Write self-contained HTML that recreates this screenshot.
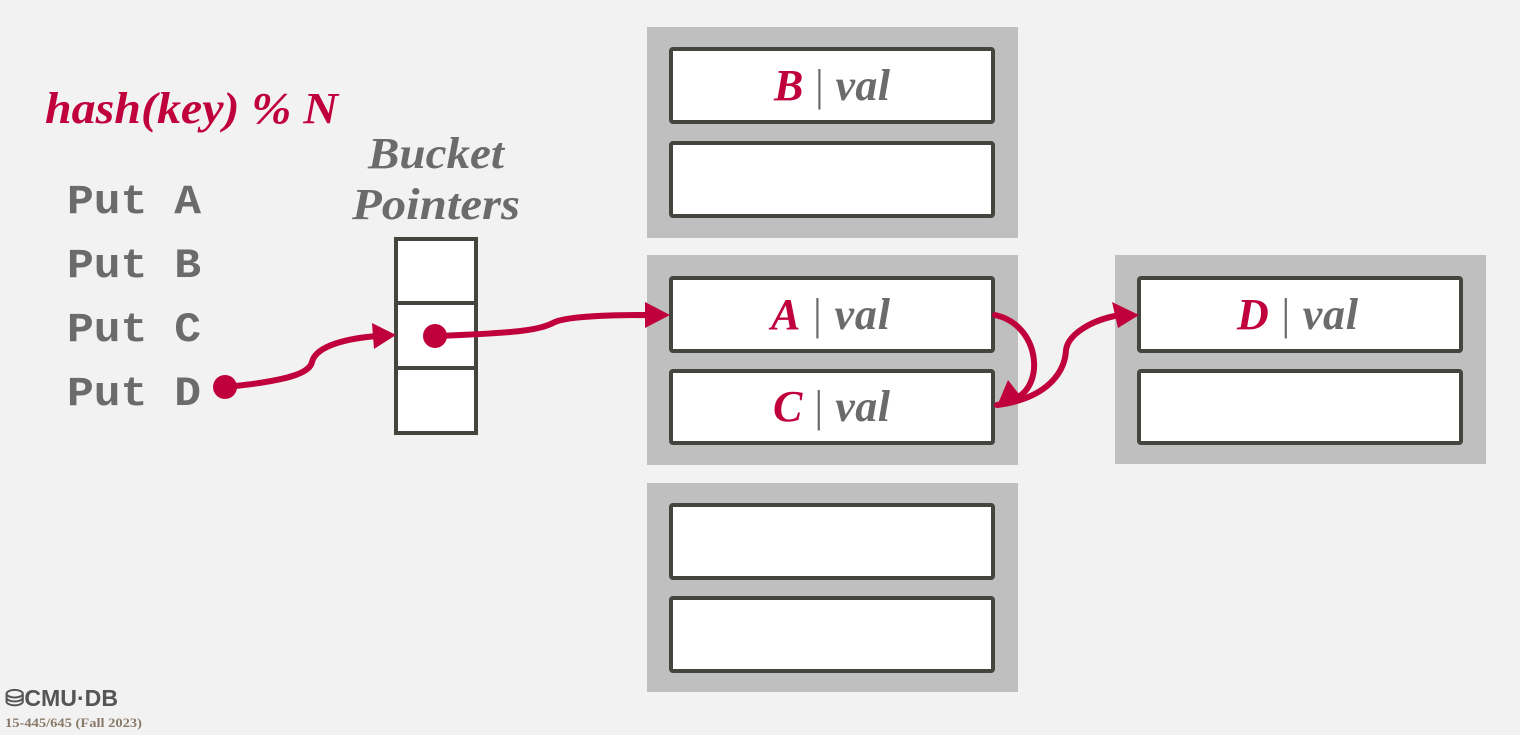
<!DOCTYPE html>
<html><head><meta charset="utf-8"><style>
html,body{margin:0;padding:0;background:#f2f2f2;}
svg{display:block}
</style></head><body>
<svg width="1520" height="735" xmlns="http://www.w3.org/2000/svg">
<rect width="1520" height="735" fill="#f2f2f2"/>
<g fill="#bfbfbf">
<rect x="647" y="27" width="371" height="211"/>
<rect x="647" y="255" width="371" height="210"/>
<rect x="647" y="483" width="371" height="209"/>
<rect x="1115" y="255" width="371" height="209"/>
</g>
<g fill="#fff" stroke="#454540" stroke-width="4">
<rect x="671" y="49" width="322" height="73" rx="2"/>
<rect x="671" y="143" width="322" height="73" rx="2"/>
<rect x="671" y="278" width="322" height="73" rx="2"/>
<rect x="671" y="371" width="322" height="72" rx="2"/>
<rect x="671" y="505" width="322" height="73" rx="2"/>
<rect x="671" y="598" width="322" height="73" rx="2"/>
<rect x="1139" y="278" width="322" height="73" rx="2"/>
<rect x="1139" y="371" width="322" height="72" rx="2"/>
<rect x="396" y="239" width="80" height="194"/>
<line x1="396" y1="303" x2="476" y2="303"/>
<line x1="396" y1="368" x2="476" y2="368"/>
</g>
<g font-family="Liberation Serif, serif" font-style="italic" font-weight="bold" font-size="44">
<text x="774" y="100" textLength="116" lengthAdjust="spacing"><tspan fill="#c0003c">B</tspan><tspan fill="#6b6b6b" font-style="normal" font-weight="normal"> | </tspan><tspan fill="#6b6b6b">val</tspan></text>
<text x="771" y="329" textLength="119" lengthAdjust="spacing"><tspan fill="#c0003c">A</tspan><tspan fill="#6b6b6b" font-style="normal" font-weight="normal"> | </tspan><tspan fill="#6b6b6b">val</tspan></text>
<text x="773" y="421" textLength="117" lengthAdjust="spacing"><tspan fill="#c0003c">C</tspan><tspan fill="#6b6b6b" font-style="normal" font-weight="normal"> | </tspan><tspan fill="#6b6b6b">val</tspan></text>
<text x="1237" y="329" textLength="121" lengthAdjust="spacing"><tspan fill="#c0003c">D</tspan><tspan fill="#6b6b6b" font-style="normal" font-weight="normal"> | </tspan><tspan fill="#6b6b6b">val</tspan></text>
</g>
<text x="45" y="123" font-family="Liberation Serif, serif" font-style="italic" font-weight="bold" font-size="44" fill="#c0003c" textLength="293" lengthAdjust="spacingAndGlyphs">hash(key) % N</text>
<g font-family="Liberation Serif, serif" font-style="italic" font-weight="bold" font-size="44" fill="#6b6b6b">
<text x="368" y="168" textLength="136" lengthAdjust="spacingAndGlyphs">Bucket</text>
<text x="352" y="219" textLength="168" lengthAdjust="spacingAndGlyphs">Pointers</text>
</g>
<g font-family="Liberation Mono, monospace" font-weight="bold" font-size="42" fill="#6b6b6b">
<text x="67" y="213" textLength="134" lengthAdjust="spacingAndGlyphs">Put A</text>
<text x="67" y="277" textLength="134" lengthAdjust="spacingAndGlyphs">Put B</text>
<text x="67" y="341" textLength="134" lengthAdjust="spacingAndGlyphs">Put C</text>
<text x="67" y="405" textLength="134" lengthAdjust="spacingAndGlyphs">Put D</text>
</g>
<g fill="none" stroke="#c0003c" stroke-width="6" stroke-linecap="round">
<path d="M225,387 C300,380 310,370 312,362 C316,345 350,338 378,336"/>
<path d="M435,336 C520,333 540,330 555,322 C570,316 610,315 650,315"/>
<path d="M995,315 C1040,325 1045,385 1016,398"/>
<path d="M997,405 C1050,398 1065,370 1066,350 C1068,335 1090,320 1120,315"/>
</g>
<g fill="#c0003c">
<circle cx="225" cy="387" r="12"/>
<circle cx="435" cy="336" r="12"/>
<polygon points="396,335 372,323 374,349"/>
<polygon points="670,315 645,302 645,328"/>
<polygon points="997,406 1008,380 1022,398"/>
<polygon points="1139,315 1112,302 1118,328"/>
</g>
<text x="5" y="706" font-family="Liberation Sans, sans-serif" font-weight="bold" font-size="23" fill="#555" textLength="113" lengthAdjust="spacingAndGlyphs">⛁CMU·DB</text>
<text x="5" y="727" font-family="Liberation Serif, serif" font-weight="bold" font-size="13" fill="#8a7a6a" textLength="137" lengthAdjust="spacingAndGlyphs">15-445/645 (Fall 2023)</text>
</svg>
</body></html>
